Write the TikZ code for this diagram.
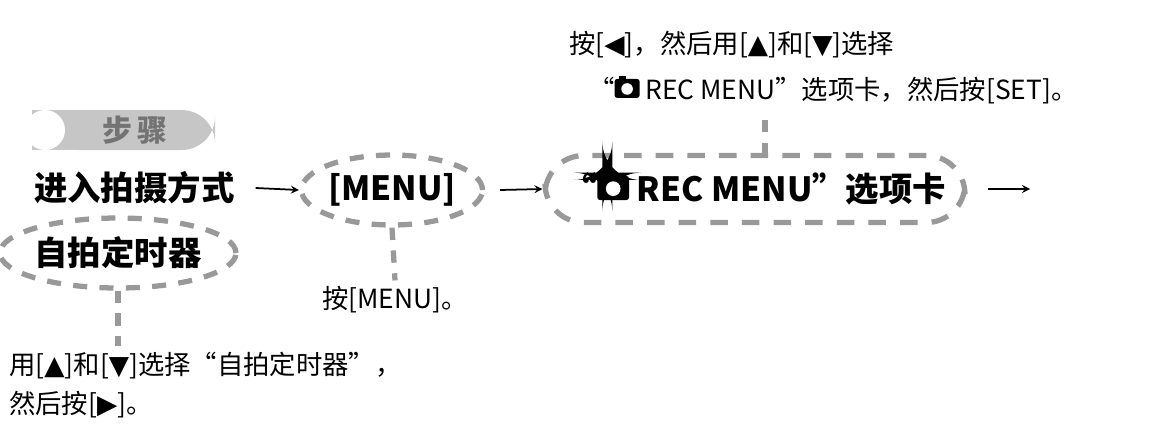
\documentclass[tikz,border=0pt]{standalone}
\usepackage{fontspec}
\setmainfont{Noto Sans CJK SC}
\newfontfamily\symfont{DejaVu Sans}
\usetikzlibrary{positioning,shapes.geometric}
\newcommand{\tri}[1]{{\symfont #1}}
\newcommand{\camicon}{\tikz[baseline=-0.05em,solid,line width=0.4pt]{\fill[black,rounded corners=1.5pt] (0,0) rectangle (0.95em,0.72em);
	\fill[black] (0.15em,0.6em) rectangle (0.45em,0.82em);
	\fill[white] (0.475em,0.34em) circle (0.22em);}}
\tikzset{
	dashring/.style={draw=gray!80,line width=3pt,dash pattern=on 8pt off 7pt},
	stepline/.style={draw=gray!80,line width=3pt,dash pattern=on 7pt off 6pt},
	flow/.style={-stealth,line width=1pt},
	big/.style={font=\fontsize{19}{22}\selectfont\bfseries},
	small/.style={font=\fontsize{15}{18}\selectfont}
}
\begin{document}
\begin{tikzpicture}[x=0.02cm,y=-0.02cm]
	\useasboundingbox (0,0) rectangle (1151,437);
	% badge
	\fill[gray!45] (32,110) rectangle (42,150);
	\fill[gray!45,rounded corners=19pt] (45,110) rectangle (215,150);
	\fill[gray!45] (45,110) rectangle (120,150);
	\fill[white] (45,130) circle (20);
	\fill[white] (42,110) rectangle (45,150);
	\node[font=\fontsize{17}{20}\selectfont\bfseries,text=gray!90!black] (badge) at (135,130) {步\,骤};
	% main row
	\node[big,anchor=west] (mode) at (28,188) {进入拍摄方式};
	\node[big,ellipse,dashring,inner sep=0pt,minimum width=2.9cm,minimum height=1.4cm] (menu) at (392,190) {[MENU]};
	\node[big,dashring,dash pattern=on 10pt off 8pt,rounded corners=22pt,minimum width=8.4cm,minimum height=1.34cm] (rec) at (755,189) {“\camicon\ REC MENU”选项卡};
	\coordinate (end) at (1030,189);
	\draw[flow] (mode.east) ++(15,0) coordinate (s1) -- (menu.west);
	\draw[flow] (menu.east) ++(15,0) coordinate (s2) -- (rec.west);
	\draw[flow] (rec.east) ++(20,0) coordinate (s3) -- (end);
	\node[big,ellipse,dashring,inner sep=0pt,minimum width=4.5cm,minimum height=1.4cm] (timer) at (118,253) {自拍定时器};
	% notes
	\node[small,anchor=west] (top1) at (563,45) {按[\tri{◀}]，然后用[\tri{▲}]和[\tri{▼}]选择};
	\node[small,anchor=west] (top2) at (582,90) {“\camicon\ REC MENU”选项卡，然后按[SET]。};
	\draw[stepline] (765,155) coordinate (t) -- (765,115);
	\node[small] (menunote) at (395,300) {按[MENU]。};
	\node[small,anchor=west,align=left] (timernote) at (3,385) {用[\tri{▲}]和[\tri{▼}]选择“自拍定时器”，\\[4pt]然后按[\tri{▶}]。};
	\draw[stepline] (menu.south) -- (menunote.north);
	\draw[stepline] (timer.south) -- (timernote.north -| timer.south);
\end{tikzpicture}
\end{document}
